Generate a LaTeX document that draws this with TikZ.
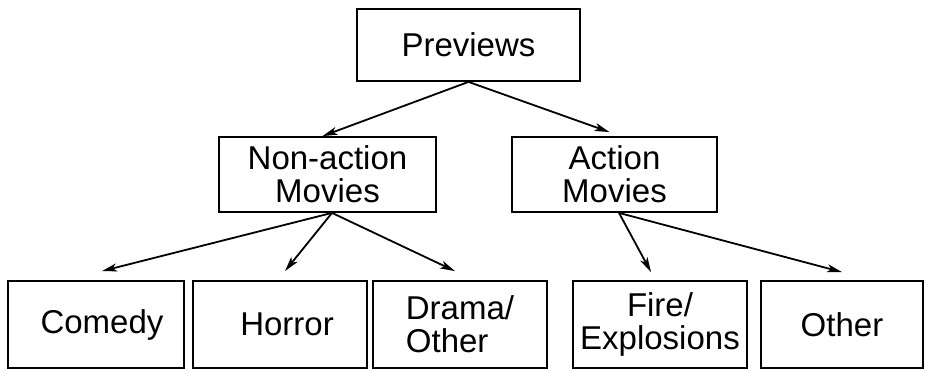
\documentclass[tikz,border=0pt]{standalone}
\usepackage{fontspec}
\setmainfont{Liberation Sans}
\usetikzlibrary{arrows.meta}

% pad a label on the left so it sits a little right of centre
\newcommand{\padleft}[1]{\hspace*{#1}}

\begin{document}
\begin{tikzpicture}[x=1pt,y=-1pt,
  catbox/.style={draw=black, line width=1.8pt, inner sep=0pt,
    font=\fontsize{33}{33}\selectfont, align=center},
  link/.style={line width=1.8pt,
    -{Stealth[length=15pt,width=8pt,inset=4pt]}}]

  \useasboundingbox (0,0) rectangle (926,370);

  % top level
  \node[catbox, minimum width=223pt, minimum height=72pt] (prev) at (468.5,45) {Previews};

  % second level
  \node[catbox, minimum width=217pt, minimum height=75pt] (nonact) at (327.5,174.5) {Non-action\\Movies};
  \node[catbox, minimum width=205pt, minimum height=75pt] (act) at (614.5,174.5) {Action\\Movies};

  % leaves
  \node[catbox, minimum width=176pt, minimum height=87pt] (comedy) at (96,324.5) {\padleft{12pt}Comedy};
  \node[catbox, minimum width=174pt, minimum height=87pt] (horror) at (280,324.5) {\padleft{14pt}Horror};
  \node[catbox, minimum width=174pt, minimum height=87pt, align=left] (drama) at (460,324.5) {Drama/\\Other};
  \node[catbox, minimum width=174pt, minimum height=87pt] (fire) at (660,324.5) {Fire/\\Explosions};
  \node[catbox, minimum width=162pt, minimum height=87pt] (other) at (842,324.5) {Other};

  % connectors
  \draw[link] (prev.south) -- ([xshift=-5pt]nonact.north);
  \draw[link] (prev.south) -- ([xshift=-5pt,yshift=4pt]act.north);

  \draw[link] ([xshift=4.5pt]nonact.south) -- ([xshift=6pt,yshift=9pt]comedy.north);
  \draw[link] ([xshift=4.5pt]nonact.south) -- ([xshift=5pt,yshift=9pt]horror.north);
  \draw[link] ([xshift=4.5pt]nonact.south) -- ([xshift=-5pt,yshift=9pt]drama.north);

  \draw[link] ([xshift=4.5pt]act.south) -- ([xshift=-9pt,yshift=8pt]fire.north);
  \draw[link] ([xshift=4.5pt]act.south) -- ([yshift=8pt]other.north);
\end{tikzpicture}
\end{document}
